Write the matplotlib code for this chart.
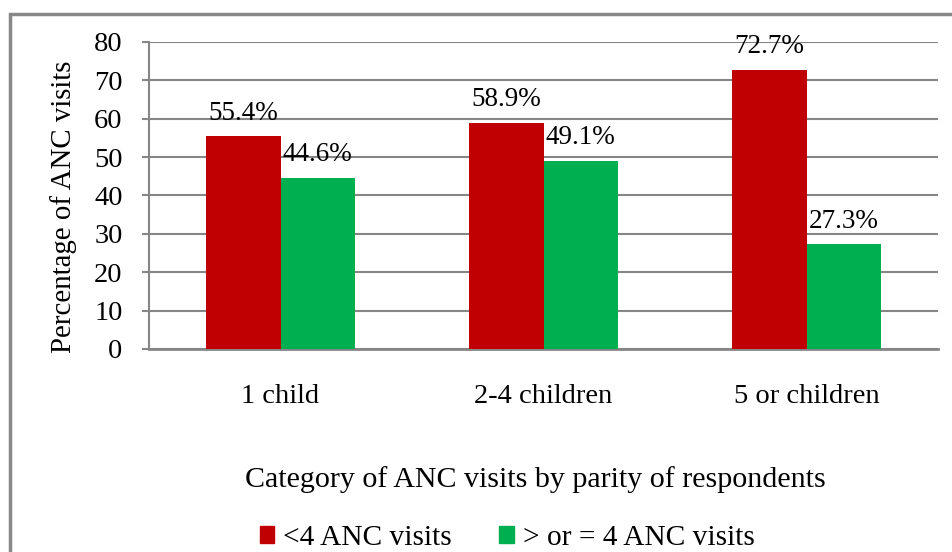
import matplotlib
matplotlib.use("Agg")
import matplotlib.pyplot as plt
import numpy as np
from matplotlib.patches import Rectangle, Patch

categories = ["1 child", "2-4 children", "5 or children"]
less_than_4 = [55.4, 58.9, 72.7]
four_or_more = [44.6, 49.1, 27.3]
series_names = ["<4 ANC visits", "> or = 4 ANC visits"]
yticks = [0, 10, 20, 30, 40, 50, 60, 70, 80]

RED = "#C00000"
GREEN = "#00B050"
GRID = "#868686"
FS = 20.5

plt.rcParams["font.family"] = ["Liberation Serif", "DejaVu Serif"]

W, H = 952, 552
fig = plt.figure(figsize=(W / 100, H / 100), dpi=100)

# chart border (runs past right/bottom edge like the crop)
fig.patches.append(Rectangle((9.5 / W, -0.05), 1.0, (H - 14) / H + 0.05,
                             transform=fig.transFigure, fill=False,
                             edgecolor="#888888", linewidth=2.5))

ax = fig.add_axes([149 / W, (H - 349) / H, (938 - 149) / W, (349 - 42) / H])

x = np.arange(len(categories))
w = 0.284
b1 = ax.bar(x - w / 2, less_than_4, w, color=RED, zorder=3)
b2 = ax.bar(x + w / 2, four_or_more, w, color=GREEN, zorder=3)

for bars, vals in ((b1, less_than_4), (b2, four_or_more)):
    for rect, v in zip(bars, vals):
        ax.annotate(f"{v}%", (rect.get_x() + rect.get_width() / 2, v),
                    xytext=(0, 12), textcoords="offset points",
                    ha="center", va="baseline", fontsize=19.5)

ax.set_xlim(-0.5, 2.5)
ax.set_ylim(0, 80)
ax.set_yticks(yticks)
ax.yaxis.grid(True, color=GRID, linewidth=1.5, zorder=0)
ax.set_axisbelow(True)
ax.set_xticks(x)
ax.set_xticklabels(categories, fontsize=FS)
ax.tick_params(axis="x", length=0, pad=25)
ax.tick_params(axis="y", labelsize=FS, length=5, width=1.5, color=GRID, pad=14)

for s in ("top", "right"):
    ax.spines[s].set_visible(False)
ax.spines["left"].set_color(GRID)
ax.spines["left"].set_linewidth(1.5)
ax.spines["bottom"].set_color(GRID)
ax.spines["bottom"].set_linewidth(2)

ax.set_ylabel("Percentage of ANC visits", fontsize=20.8, va="center")
ax.yaxis.set_label_coords((64 - 149) / 789, (349 - 207) / 307)

fig.text(535 / W, 1 - 480 / H, "Category of ANC visits by parity of respondents",
         ha="center", va="center", fontsize=21.6)

handles = [Patch(color=RED), Patch(color=GREEN)]
fig.legend(handles, series_names, loc="center", bbox_to_anchor=(507 / W, 1 - 538 / H),
           ncol=2, frameon=False, fontsize=21.2, handlelength=0.5, handleheight=0.5,
           handletextpad=0.3, columnspacing=1.6, borderpad=0, borderaxespad=0)

fig.savefig("out.png", dpi=100)
